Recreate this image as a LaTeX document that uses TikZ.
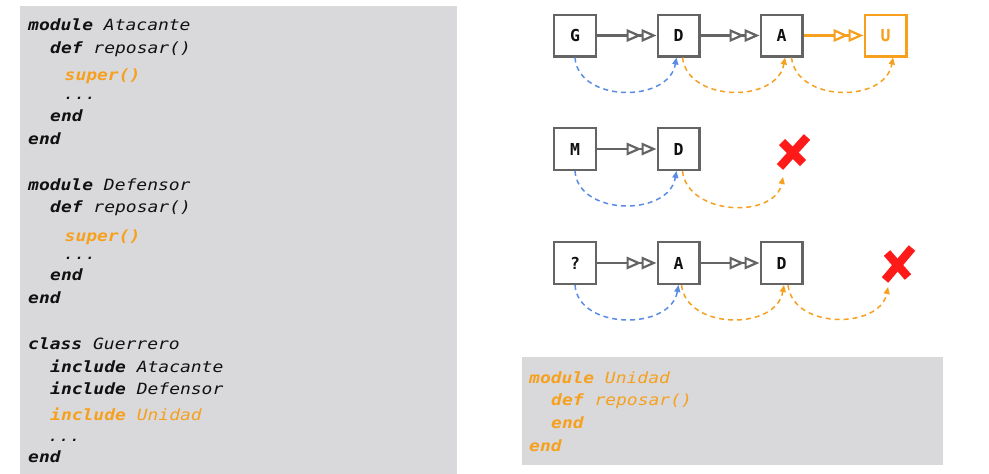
\documentclass[tikz,border=0pt]{standalone}
\usepackage{fontspec}
\usetikzlibrary{arrows.meta}
\newfontfamily\codefont{DejaVu Sans Mono}[FakeStretch=1.16,ItalicFont={DejaVu Sans Mono Oblique},BoldFont={DejaVu Sans Mono Bold},BoldItalicFont={DejaVu Sans Mono Bold Oblique}]
\newfontfamily\boxfont{DejaVu Sans Mono Bold}
\definecolor{orng}{HTML}{F6A01E}
\definecolor{blu}{HTML}{5A8CE6}
\definecolor{boxgray}{HTML}{646464}
\definecolor{bggray}{HTML}{D9D9DB}
\definecolor{xred}{HTML}{FF1A1A}
\definecolor{ink}{HTML}{111111}
\newcommand\kwd[1]{{\bfseries\itshape #1}}
\newcommand\idn[1]{{\itshape #1}}
\tikzset{
  code/.style={anchor=base west, inner sep=0pt, font=\codefont\fontsize{15.5}{18}\selectfont, text=ink},
  ocode/.style={code, text=orng},
  blk/.style={draw=boxgray, line width=2.3pt, fill=white, minimum size=41.7pt, inner sep=0pt,
    font=\boxfont\fontsize{16.5}{16.5}\selectfont, text=ink},
  oblk/.style={blk, draw=orng, text=orng},
  inh/.style={draw=boxgray, line width=2.2pt,
    -{Triangle[length=15pt,width=12.5pt,line width=2.2pt,fill=white] Triangle[length=15pt,width=12.5pt,line width=2.2pt,fill=white]}},
  oinh/.style={inh, draw=orng},
  bdash/.style={draw=blu, line width=1.5pt, dash pattern=on 5pt off 4pt, -{Triangle[length=7pt,width=6pt]}},
  odash/.style={bdash, draw=orng},
  xmark/.style={draw=xred, line width=8.5pt}
}
\begin{document}
\begin{tikzpicture}[x=1pt,y=-1pt]
\useasboundingbox (0,0) rectangle (989,474);
\fill[white] (0,0) rectangle (989,474);
\fill[bggray] (20,6) rectangle (457,474);
\fill[bggray] (522,357) rectangle (943,465);

% left code
\node[code] (l1) at (28,30.5) {\kwd{module} \idn{Atacante}};
\node[code] (l2) at (50,53) {\kwd{def} \idn{reposar()}};
\node[ocode] (l3) at (64.5,80) {\kwd{super()}};
\node[code] (l4) at (63.5,99) {\idn{...}};
\node[code] (l5) at (50,121.5) {\kwd{end}};
\node[code] (l6) at (28,144) {\kwd{end}};
\node[code] (l7) at (28,190) {\kwd{module} \idn{Defensor}};
\node[code] (l8) at (50,212.5) {\kwd{def} \idn{reposar()}};
\node[ocode] (l9) at (64.5,241) {\kwd{super()}};
\node[code] (l10) at (63.5,259) {\idn{...}};
\node[code] (l11) at (50,280.5) {\kwd{end}};
\node[code] (l12) at (28,303) {\kwd{end}};
\node[code] (l13) at (28,349) {\kwd{class} \idn{Guerrero}};
\node[code] (l14) at (50,372) {\kwd{include} \idn{Atacante}};
\node[code] (l15) at (50,394) {\kwd{include} \idn{Defensor}};
\node[ocode] (l16) at (50,420) {\kwd{include} \idn{Unidad}};
\node[code] (l17) at (48,441) {\idn{...}};
\node[code] (l18) at (28,462.5) {\kwd{end}};

% right code
\node[ocode] (r1) at (529,383.5) {\kwd{module} \idn{Unidad}};
\node[ocode] (r2) at (551,405.5) {\kwd{def} \idn{reposar()}};
\node[ocode] (r3) at (551,428) {\kwd{end}};
\node[ocode] (r4) at (529,451) {\kwd{end}};

% row 1
\node[blk] (G) at (575,35.5) {G};
\node[blk] (D1) at (678.5,35.5) {D};
\node[blk] (A1) at (781.5,35.5) {A};
\node[oblk] (U) at (885.5,35.5) {U};
\draw[inh] (G) -- (D1);
\draw[inh] (D1) -- (A1);
\draw[oinh] (A1) -- (U);
\draw[bdash] (G.south) .. controls +(3,45) and +(-8,46) .. ([xshift=-2pt]D1.south);
\draw[odash] ([xshift=4pt]D1.south) .. controls +(5,45) and +(-8,46) .. ([xshift=3.5pt]A1.south);
\draw[odash] ([xshift=10pt]A1.south) .. controls +(5,45) and +(-8,46) .. ([xshift=7.5pt]U.south);

% row 2
\node[blk] (M) at (575,149) {M};
\node[blk] (D2) at (678.5,149) {D};
\draw[inh] (M) -- (D2);
\coordinate (X2) at (793,152);
\coordinate (T2) at (783,177);
\draw[xmark] ([shift={(-11,-10)}]X2) -- ([shift={(10,11)}]X2);
\draw[xmark] ([shift={(14,-15)}]X2) -- ([shift={(-13,15)}]X2);
\draw[bdash] (M.south) .. controls +(3,45) and +(-8,46) .. ([xshift=-2pt]D2.south);
\draw[odash] ([xshift=4pt]D2.south) .. controls +(5,45) and +(-8,42) .. (T2);

% row 3
\node[blk] (Q) at (575,263) {?};
\node[blk] (A3) at (678.5,263) {A};
\node[blk] (D3) at (781.5,263) {D};
\draw[inh] (Q) -- (A3);
\draw[inh] (A3) -- (D3);
\coordinate (X3) at (898,264);
\coordinate (T3) at (888,287);
\draw[xmark] ([shift={(-11,-11)}]X3) -- ([shift={(10,13)}]X3);
\draw[xmark] ([shift={(14,-16)}]X3) -- ([shift={(-13,16)}]X3);
\draw[bdash] (Q.south) .. controls +(3,45) and +(-8,46) .. (A3.south);
\draw[odash] ([xshift=3pt]A3.south) .. controls +(5,45) and +(-8,46) .. ([xshift=2.5pt]D3.south);
\draw[odash] ([xshift=6.5pt]D3.south) .. controls +(5,45) and +(-8,42) .. (T3);
\end{tikzpicture}
\end{document}
